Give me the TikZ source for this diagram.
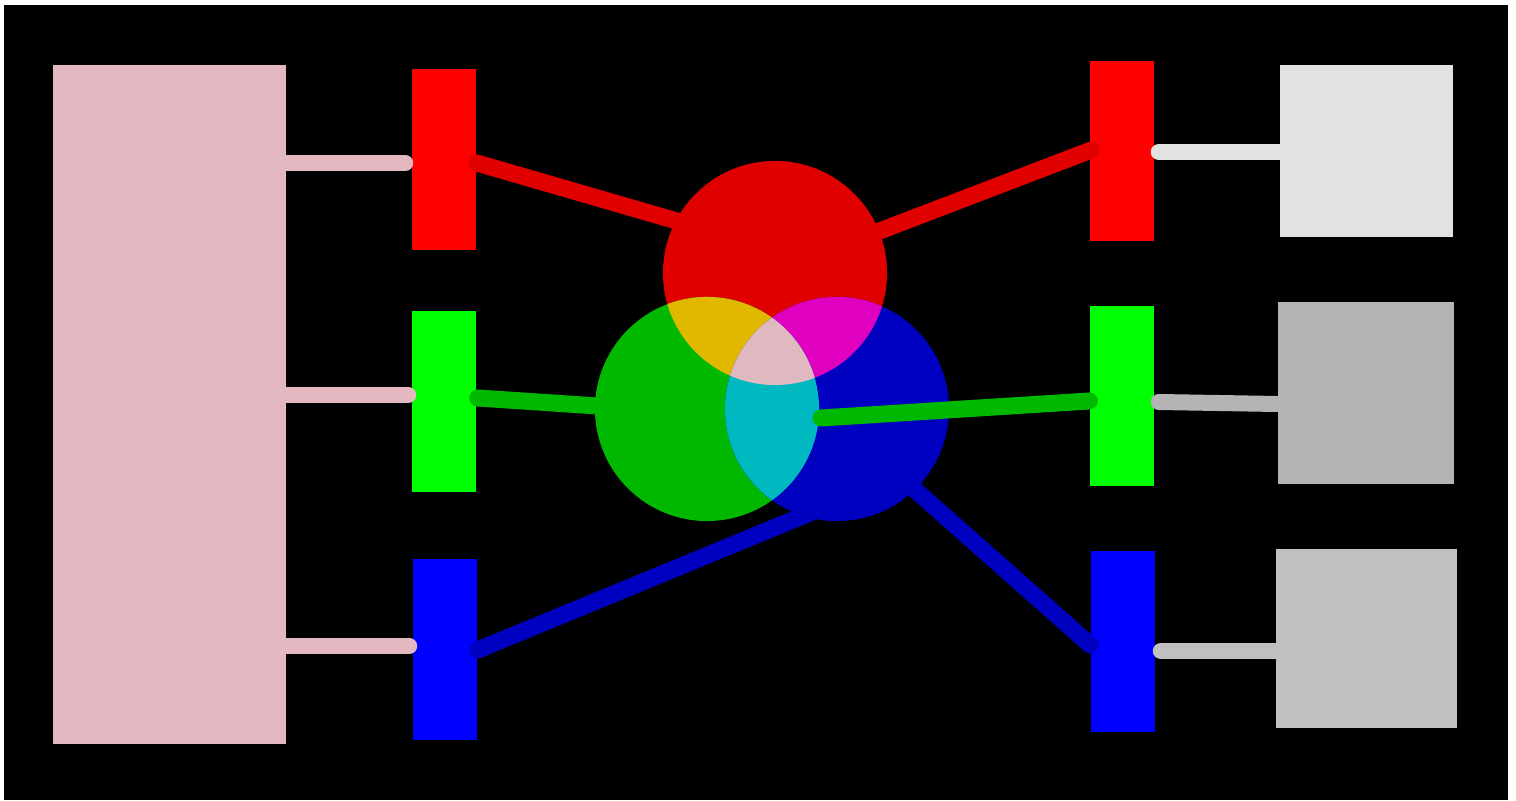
\documentclass[tikz,border=0pt]{standalone}
\usepackage{tikz}
\usetikzlibrary{calc}
\definecolor{boxpink}{HTML}{E4B8C0}
\definecolor{cred}{HTML}{E00000}
\definecolor{cgreen}{HTML}{00B800}
\definecolor{cblue}{HTML}{0000C0}
\definecolor{cyel}{HTML}{E0B800}
\definecolor{cmag}{HTML}{E000C0}
\definecolor{ccyan}{HTML}{00B8C0}
\definecolor{cwhite}{HTML}{E0B8C0}
\definecolor{greyA}{HTML}{E2E2E2}
\definecolor{greyB}{HTML}{B4B4B4}
\definecolor{greyC}{HTML}{C0C0C0}

\begin{document}
\begin{tikzpicture}[x=0.01cm,y=-0.01cm,
    bar/.style={rectangle, minimum width=0.64cm, minimum height=1.8cm, inner sep=0pt},
    panel/.style={rectangle, inner sep=0pt},
    stub/.style={line width=0.16cm, line cap=round},
    beam/.style={line width=0.17cm, line cap=round},
    disc/.style={circle, minimum size=2.24cm, inner sep=0pt}]
        %background
            \useasboundingbox (0,0) rectangle (1516,801);
            \fill[white] (0,0) rectangle (1516,801);
            \fill[black] (4,5) rectangle (1508,800);
        %boxes
            \node[panel, fill=boxpink, minimum width=2.33cm, minimum height=6.79cm] (src) at (169.5,404.5) {};
            \node[bar, fill=red] (lr) at (444,159.5) {};
            \node[bar, fill=green] (lg) at (444,401.5) {};
            \node[bar, fill=blue] (lb) at (445,649.5) {};
            \node[bar, fill=red] (rr) at (1122,151) {};
            \node[bar, fill=green] (rg) at (1122,396) {};
            \node[bar, fill=blue] (rb) at (1123,641.5) {};
            \node[panel, fill=greyA, minimum width=1.73cm, minimum height=1.72cm] (wa) at (1366.5,151) {};
            \node[panel, fill=greyB, minimum width=1.76cm, minimum height=1.82cm] (wb) at (1366,393) {};
            \node[panel, fill=greyC, minimum width=1.81cm, minimum height=1.79cm] (wc) at (1366.5,638.5) {};
        %circle
            \node[disc] (cr) at (775,273) {};
            \node[disc] (cg) at (707,409) {};
            \node[disc] (cb) at (837,409) {};
        % lines
            \coordinate (s1) at (286,163);
            \coordinate (s2) at (286,395);
            \coordinate (s3) at (286,646);
            \draw[stub, boxpink] (s1) -- ($(lr.west |- s1)+(-6,0)$);
            \draw[stub, boxpink] (s2) -- ($(lg.west |- s2)+(-3,0)$);
            \draw[stub, boxpink] (s3) -- ($(lb.west |- s3)+(-3,0)$);
            \draw[stub, greyA] ($(rr.east)+(4,1)$) -- (wa.west |- 0,152);
            \draw[stub, greyB] ($(rg.east)+(4,6)$) -- ($(wb.west)+(0,11)$);
            \draw[stub, greyC] ($(rb.east)+(5,9.5)$) -- (wc.west |- 0,651);
            \draw[beam, cred] ($(lr.east)+(0,3.5)$) -- ($(cr)+(-55,-39.5)$);
            \draw[beam, cred] ($(rr.west)+(2,-1)$) -- ($(cr)+(55,-23)$);
            \draw[beam, cgreen] ($(lg.east)+(1,-3.5)$) -- ($(cg)+(-57,0.5)$);
            \draw[beam, cblue] ($(lb.east)+(0,0.5)$) -- ($(cb)+(3,91.5)$);
            \draw[beam, cblue] ($(rb.west)+(0,3.5)$) -- ($(cb)+(33,41)$);
        %circles
            \fill[cred] (cr) circle (1.12cm);
            \fill[cgreen] (cg) circle (1.12cm);
            \fill[cblue] (cb) circle (1.12cm);
            \begin{scope}
                \clip (cr) circle (1.12cm);
                \fill[cyel] (cg) circle (1.12cm);
                \fill[cmag] (cb) circle (1.12cm);
            \end{scope}
            \begin{scope}
                \clip (cg) circle (1.12cm);
                \fill[ccyan] (cb) circle (1.12cm);
                \clip (cb) circle (1.12cm);
                \fill[cwhite] (cr) circle (1.12cm);
            \end{scope}
        % top line
            \draw[beam, cgreen] ($(cb)+(-16,9)$) -- ($(rg.west)+(0,5)$);
    \end{tikzpicture}
\end{document}
